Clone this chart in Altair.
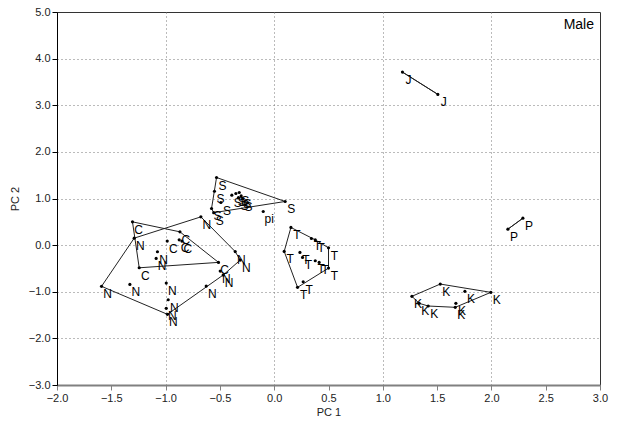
import altair as alt
import pandas as pd

# ---- data (PC1, PC2) ----
C_x = [-1.305, -0.868, -0.875, -0.850, -0.985, -1.243, -0.513]
C_y = [0.499, 0.285, 0.113, 0.086, 0.086, -0.486, -0.370]

N_x = [-0.675, -0.359, -0.313, -0.497, -0.470, -0.626, -0.983, -0.994, -0.976, -0.994, -1.075, -1.087, -1.329, -1.590, -1.289]
N_y = [0.606, -0.139, -0.321, -0.557, -0.642, -0.878, -1.484, -1.355, -1.171, -0.814, -0.143, -0.285, -0.842, -0.884, 0.150]

S_x = [-0.531, -0.550, -0.491, -0.577, -0.557, 0.101, -0.390, -0.353, -0.322, -0.304, -0.329, -0.292]
S_y = [1.450, 1.156, 0.914, 0.786, 0.696, 0.936, 1.071, 1.107, 1.128, 1.056, 1.021, 0.985]

PI_x = [-0.101]
PI_y = [0.722]

T_x = [0.154, 0.343, 0.378, 0.500, 0.092, 0.237, 0.261, 0.378, 0.414, 0.500, 0.267, 0.215]
T_y = [0.379, 0.143, 0.113, -0.058, -0.135, -0.156, -0.263, -0.336, -0.370, -0.493, -0.786, -0.906]

K_x = [1.268, 1.529, 1.995, 1.756, 1.673, 1.667, 1.335, 1.418]
K_y = [-1.098, -0.835, -1.013, -0.991, -1.248, -1.334, -1.248, -1.306]

J_x = [1.181, 1.507]
J_y = [3.711, 3.233]

P_x = [2.152, 2.290]
P_y = [0.343, 0.578]

groups = [("C", C_x, C_y, True), ("N", N_x, N_y, True), ("S", S_x, S_y, True),
          ("pi", PI_x, PI_y, False), ("T", T_x, T_y, True), ("K", K_x, K_y, True),
          ("J", J_x, J_y, True), ("P", P_x, P_y, True)]

x_ticks = [-2.0, -1.5, -1.0, -0.5, 0.0, 0.5, 1.0, 1.5, 2.0, 2.5, 3.0]
y_ticks = [-3.0, -2.5, -2.0, -1.5, -1.0, -0.5, 0.0, 0.5, 1.0, 1.5, 2.0, 2.5, 3.0, 3.5, 4.0, 4.5, 5.0]


def hull(pts):
    pts = sorted(set(pts))
    if len(pts) <= 2:
        return pts

    def cross(o, a, b):
        return (a[0] - o[0]) * (b[1] - o[1]) - (a[1] - o[1]) * (b[0] - o[0])

    lower = []
    for p in pts:
        while len(lower) >= 2 and cross(lower[-2], lower[-1], p) <= 0:
            lower.pop()
        lower.append(p)
    upper = []
    for p in reversed(pts):
        while len(upper) >= 2 and cross(upper[-2], upper[-1], p) <= 0:
            upper.pop()
        upper.append(p)
    return lower[:-1] + upper[:-1]


pt_rows, hull_rows = [], []
for name, xs, ys, has_hull in groups:
    for x, y in zip(xs, ys):
        pt_rows.append({"g": name, "x": x, "y": y, "lab": name})
    if has_hull:
        h = hull(list(zip(xs, ys)))
        h = h + [h[0]]
        for i, (x, y) in enumerate(h):
            hull_rows.append({"g": name, "x": x, "y": y, "o": i})

pts = pd.DataFrame(pt_rows)
hulls = pd.DataFrame(hull_rows)

grid_x = {"condition": {"test": "datum.value % 1 === 0 && datum.value > -2 && datum.value < 3", "value": 1}, "value": 0}
grid_y = {"condition": {"test": "datum.value % 1 === 0 && datum.value > -3 && datum.value < 5", "value": 1}, "value": 0}

xs = alt.Scale(domain=[-2, 3], nice=False, zero=False)
ys = alt.Scale(domain=[-3, 5], nice=False, zero=False)

x_axis = alt.Axis(values=x_ticks, format=".1f", title="PC 1", grid=True, gridDash=[1, 3],
                  gridColor="#777", gridOpacity=grid_x, domainColor="#808080", domainWidth=2,
                  tickColor="#808080", tickSize=5, labelFontSize=11, labelColor="#222",
                  labelFont="Liberation Sans", titleFont="Liberation Sans", titleFontSize=11,
                  titleFontWeight="normal", titleColor="#222", titlePadding=3, labelPadding=2,
                  labelFlush=False, labelOverlap=False)
y_axis = alt.Axis(values=y_ticks, format=".1f", title="PC 2", grid=True, gridDash=[1, 3],
                  gridColor="#777", gridOpacity=grid_y, domainColor="#000", tickColor="#000",
                  tickSize=5, labelFontSize=11, labelColor="#222", labelFont="Liberation Sans",
                  titleFont="Liberation Sans", titleFontSize=11, titleFontWeight="normal",
                  titleColor="#222", titlePadding=8, labelPadding=2, labelFlush=False,
                  labelOverlap=False)

lines = alt.Chart(hulls).mark_line(color="#222", strokeWidth=1).encode(
    x=alt.X("x:Q", scale=xs, axis=x_axis),
    y=alt.Y("y:Q", scale=ys, axis=y_axis),
    detail="g:N",
    order="o:Q",
)

dots = alt.Chart(pts).mark_circle(color="#000", size=10, opacity=1).encode(
    x=alt.X("x:Q", scale=xs), y=alt.Y("y:Q", scale=ys)
)

labels = alt.Chart(pts).mark_text(dx=6, dy=8, fontSize=12, font="Liberation Sans",
                                   color="#000", baseline="middle", align="center").encode(
    x=alt.X("x:Q", scale=xs), y=alt.Y("y:Q", scale=ys), text="lab:N"
)

male = alt.Chart(pd.DataFrame({"t": ["Male"]})).mark_text(
    fontSize=14, font="Liberation Sans", color="#000", align="right", baseline="middle"
).encode(x=alt.value(537), y=alt.value(13), text="t:N")

chart = alt.layer(lines, dots, labels, male).properties(
    width=543, height=373,
    padding={"left": 57, "top": 12, "right": 17, "bottom": 41},
    autosize=alt.AutoSizeParams(type="none"),
).configure_view(stroke="#333", strokeWidth=1)

chart.save("out.html", embed_options={"renderer": "svg", "actions": False})
